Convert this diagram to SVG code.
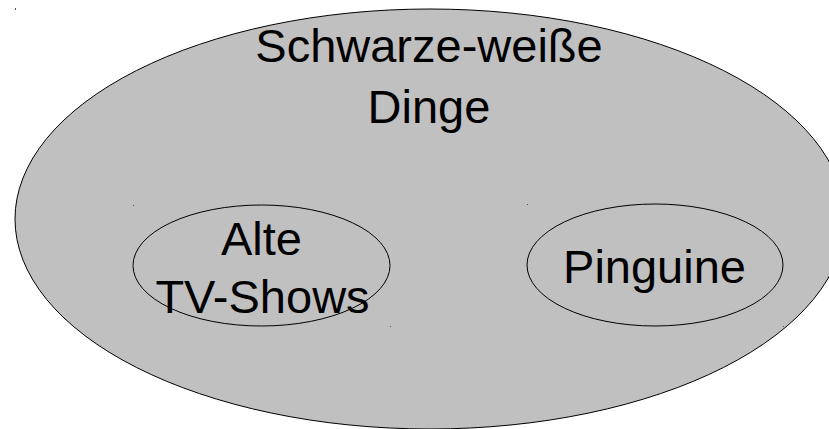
<svg xmlns="http://www.w3.org/2000/svg" width="829" height="429" viewBox="0 0 829 429">
<style>
.set{fill:#c0c0c0;stroke:#000;stroke-width:1}
.sub{fill:none;stroke:#000;stroke-width:1}
.lbl{font-family:"Liberation Sans",Arial,sans-serif;font-size:47px;fill:#000;text-anchor:middle}
.dot{fill:#555}
</style>
<rect width="829" height="429" fill="#fff"/>
<g id="schwarz-weiss">
<ellipse class="set" cx="430" cy="219" rx="415" ry="210"/>
<text class="lbl" x="429" y="62">Schwarze-weiße</text>
<text class="lbl" x="429" y="123">Dinge</text>
<rect class="dot" x="15" y="8" width="1" height="2"/>
</g>
<g id="alte-tv-shows">
<ellipse class="sub" cx="261.5" cy="265.5" rx="128.5" ry="60.5"/>
<text class="lbl" x="261.5" y="255">Alte</text>
<text class="lbl" x="262.5" y="313">TV-Shows</text>
<rect class="dot" x="133" y="205" width="1" height="1"/>
<rect class="dot" x="390" y="326" width="1" height="1"/>
</g>
<g id="pinguine">
<ellipse class="sub" cx="655" cy="265" rx="128" ry="61"/>
<text class="lbl" x="654.5" y="283">Pinguine</text>
<rect class="dot" x="527" y="204" width="1" height="1"/>
<rect class="dot" x="783" y="326" width="1" height="1"/>
</g>
<g id="connectors"></g>
</svg>
